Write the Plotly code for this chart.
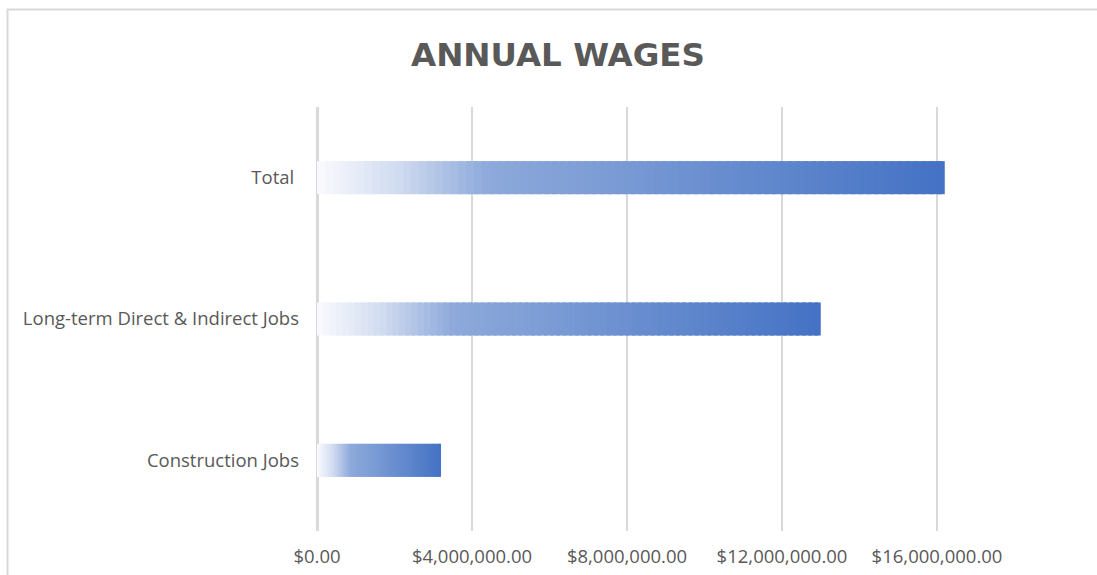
import plotly.graph_objects as go

categories = ["Construction Jobs", "Long-term Direct & Indirect Jobs", "Total\u00a0"]
wages = [3200000, 13000000, 16200000]
tick_values = [0, 4000000, 8000000, 12000000, 16000000]

# gradient stops (fraction of bar length, colour)
grad_stops = [(0.0, (250, 251, 254)), (0.13, (208, 219, 240)), (0.27, (142, 170, 219)), (1.0, (68, 114, 196))]


def grad_color(f):
    for (f0, c0), (f1, c1) in zip(grad_stops[:-1], grad_stops[1:]):
        if f <= f1:
            t = (f - f0) / (f1 - f0) if f1 > f0 else 0
            c = [round(a + (b - a) * t) for a, b in zip(c0, c1)]
            return "rgb(%d,%d,%d)" % tuple(c)
    return "rgb(%d,%d,%d)" % grad_stops[-1][1]


N = 80
fig = go.Figure()
for i in range(N):
    frac = (i + 0.5) / N
    last = i == N - 1
    fig.add_trace(go.Bar(
        y=categories,
        x=[v / N * (1.0 if last else 1.6) for v in wages],
        base=[v * i / N for v in wages],
        orientation="h",
        width=0.234,
        marker=dict(color=grad_color(frac), line=dict(width=0)),
        showlegend=False,
        hoverinfo="skip",
    ))

fig.update_layout(
    width=1097, height=575,
    barmode="overlay",
    paper_bgcolor="white", plot_bgcolor="white",
    margin=dict(l=317, r=5, t=107, b=44),
    font=dict(family="Open Sans", color="#595959"),
    title=dict(text="<b>ANNUAL WAGES</b>", x=558 / 1097, xref="container", xanchor="center",
               y=1 - 55 / 575, yref="container", yanchor="middle",
               font=dict(family="DejaVu Sans", size=32.5, color="#595959")),
    shapes=[dict(type="rect", xref="paper", yref="paper", x0=(7.5 - 317) / 775, x1=1.2,
                 y0=-0.3, y1=(531 - 9.5) / 424, line=dict(color="#d9d9d9", width=2),
                 fillcolor="rgba(0,0,0,0)", layer="below")],
)
fig.update_xaxes(range=[0, 20000000], tickvals=tick_values, tickformat="$,.2f",
                 showgrid=True, gridcolor="#d9d9d9", gridwidth=2,
                 zeroline=True, zerolinecolor="#d9d9d9", zerolinewidth=3,
                 showline=False, ticklabelstandoff=12,
                 tickfont=dict(family="Open Sans", size=18.5, color="#595959"))
fig.update_yaxes(range=[-0.5, 2.5], showgrid=False, showline=False, zeroline=False,
                 ticklabelstandoff=17,
                 tickfont=dict(family="Open Sans", size=18.5, color="#595959"))

fig.write_html("out.html")
